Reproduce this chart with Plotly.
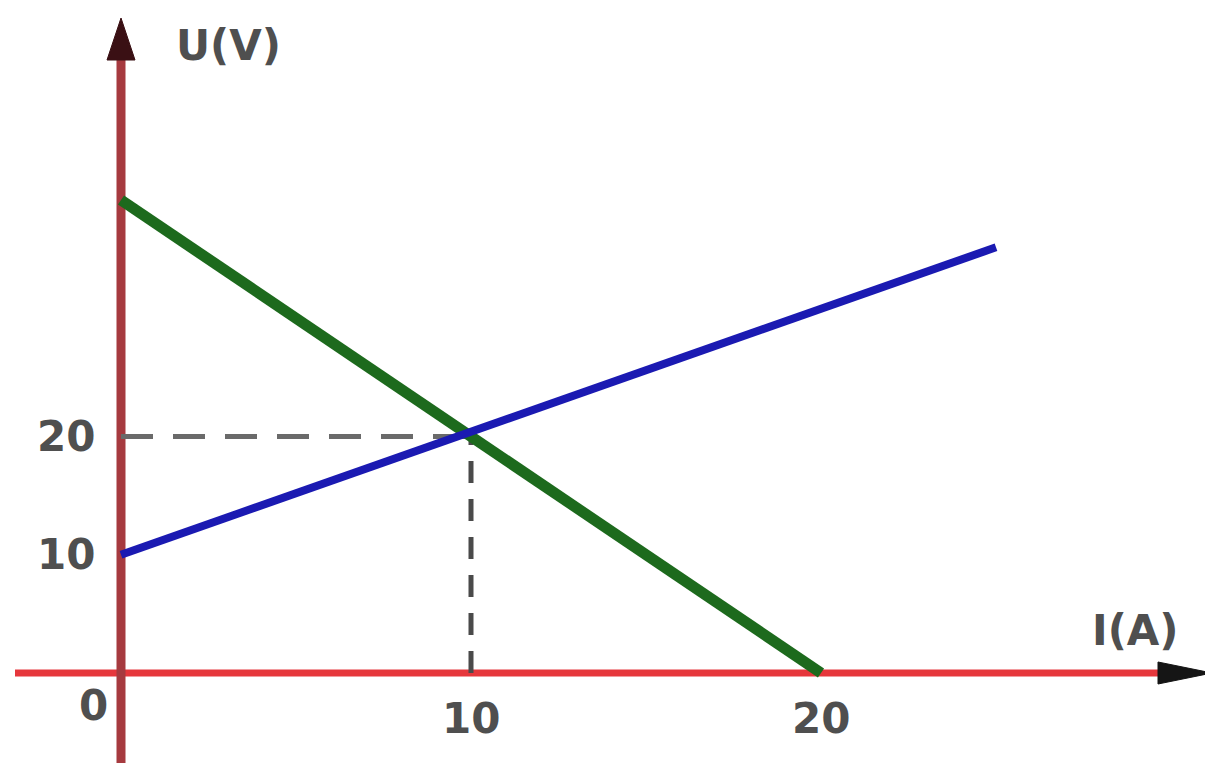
import plotly.graph_objects as go

# ---- data ----
current_blue = [0, 25]
voltage_blue = [10, 36]
current_green = [0, 20]
voltage_green = [40, 0]
guide_current = 10
guide_voltage = 20
x_tick_values = [10, 20]
x_tick_labels = ["10", "20"]
y_tick_values = [10, 20]
y_tick_labels = ["10", "20"]
x_title = "I(A)"
y_title = "U(V)"

W, H = 1213, 763
PAGE_OFF = 8  # body margin of the html page
# page pixel <-> data mapping
X0PX, XSCALE = 121, 35.0
Y0PX, YSCALE = 673, 11.825
def dx(px):
    return (px - X0PX) / XSCALE
def dy(py):
    return (Y0PX - py) / YSCALE

fig = go.Figure()

# axes (drawn as lines)
fig.add_shape(type="line", x0=dx(15), x1=dx(1165), y0=0, y1=0,
              line=dict(color="#e6373c", width=7), layer="below")
fig.add_shape(type="line", x0=0, x1=0, y0=dy(780), y1=dy(55),
              line=dict(color="#a63a3f", width=9), layer="below")
# arrowheads
fig.add_shape(type="path",
              path=f"M {dx(1212)} {dy(673)} L {dx(1158)} {dy(662)} L {dx(1158)} {dy(684)} Z",
              fillcolor="#151515", line=dict(color="#151515", width=1))
fig.add_shape(type="path",
              path=f"M {dx(121)} {dy(18)} L {dx(107)} {dy(60)} L {dx(135)} {dy(60)} Z",
              fillcolor="#3a1014", line=dict(color="#3a1014", width=1))

# dashed guides
fig.add_trace(go.Scatter(x=[0, guide_current], y=[guide_voltage, guide_voltage], mode="lines",
                         line=dict(color="#6a6a6a", width=5, dash="32px,20px"),
                         hoverinfo="skip", showlegend=False))
fig.add_trace(go.Scatter(x=[guide_current, guide_current], y=[0, guide_voltage], mode="lines",
                         line=dict(color="#4a4a4a", width=5, dash="22px,16px"),
                         hoverinfo="skip", showlegend=False))

# data lines
fig.add_trace(go.Scatter(x=current_green, y=voltage_green, mode="lines",
                         line=dict(color="#1d6a1d", width=11), showlegend=False))
fig.add_trace(go.Scatter(x=current_blue, y=voltage_blue, mode="lines",
                         line=dict(color="#1b1ab2", width=8), showlegend=False))

font = dict(family="DejaVu Sans, sans-serif", size=42, color="#4f4f4f")
ann = []
for v, t in zip(x_tick_values, x_tick_labels):
    ann.append(dict(x=v, y=dy(718), text=f"<b>{t}</b>", showarrow=False, font=font,
                    xanchor="center", yanchor="middle"))
for v, t in zip(y_tick_values, y_tick_labels):
    ann.append(dict(x=dx(97), y=v, text=f"<b>{t}</b>", showarrow=False, font=font,
                    xanchor="right", yanchor="middle"))
ann.append(dict(x=dx(93), y=dy(705), text="<b>0</b>", showarrow=False, font=font,
                xanchor="center", yanchor="middle"))
ann.append(dict(x=dx(228), y=dy(45), text=f"<b>{y_title}</b>", showarrow=False, font=font,
                xanchor="center", yanchor="middle"))
ann.append(dict(x=dx(1135), y=dy(630), text=f"<b>{x_title}</b>", showarrow=False, font=font,
                xanchor="center", yanchor="middle"))

fig.update_layout(
    width=W, height=H,
    margin=dict(l=0, r=0, t=0, b=0),
    paper_bgcolor="white", plot_bgcolor="white",
    xaxis=dict(range=[dx(PAGE_OFF), dx(PAGE_OFF + W)], visible=False, fixedrange=True),
    yaxis=dict(range=[dy(PAGE_OFF + H), dy(PAGE_OFF)], visible=False, fixedrange=True),
    annotations=ann,
    showlegend=False,
)
fig.write_html("out.html")
